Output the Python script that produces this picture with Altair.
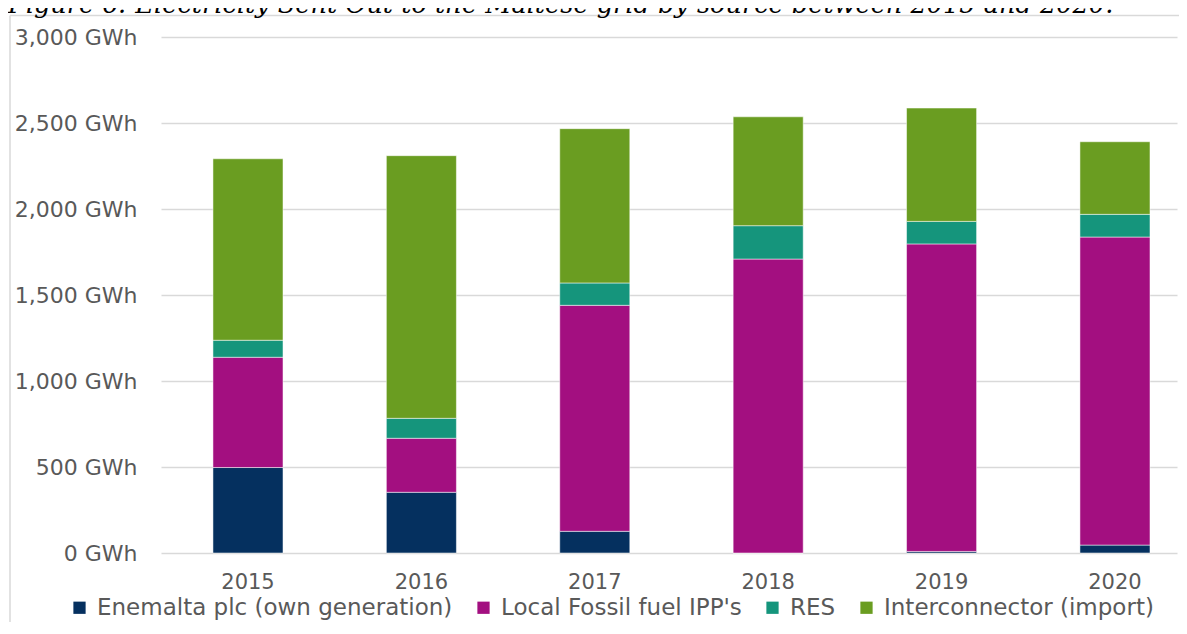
import altair as alt
import pandas as pd

years = ["2015", "2016", "2017", "2018", "2019", "2020"]
sources = ["Enemalta plc (own generation)", "Local Fossil fuel IPP's", "RES", "Interconnector (import)"]
enemalta = [497, 353, 126, 0, 9, 46]
fossil = [641, 314, 1314, 1709, 1788, 1791]
res = [99, 116, 130, 194, 131, 132]
interconnector = [1055, 1527, 897, 633, 659, 422]
colors = ["#05305F", "#A30F80", "#15957C", "#6A9D21"]
y_ticks = [0, 500, 1000, 1500, 2000, 2500, 3000]
title_text = "Figure 6: Electricity Sent Out to the Maltese grid by source between 2015 and 2020."

rows = []
for i, yr in enumerate(years):
    for k, (s, vals) in enumerate(zip(sources, [enemalta, fossil, res, interconnector])):
        rows.append({"Year": yr, "Source": s, "GWh": vals[i], "order": k})
df = pd.DataFrame(rows)

label_color = "#595959"
grid_color = "#D9D9D9"

bars = alt.Chart(df).mark_bar(stroke="#ffffff", strokeOpacity=0.5, strokeWidth=1).encode(
    x=alt.X(
        "Year:N", sort=years, title=None,
        scale=alt.Scale(paddingInner=0.596, paddingOuter=0.2277, align=0.658),
        axis=alt.Axis(labelFont="DejaVu Sans", labelFontSize=21, labelColor=label_color,
                      labelPadding=18, ticks=False, domain=False, labelAngle=0, grid=False),
    ),
    y=alt.Y(
        "GWh:Q", stack="zero", title=None,
        scale=alt.Scale(domain=[0, 3000], nice=False),
        axis=alt.Axis(values=y_ticks, labelExpr="format(datum.value, ',') + ' GWh'",
                      labelFont="DejaVu Sans", labelFontSize=22, labelColor=label_color,
                      labelPadding=24, ticks=False, domain=False,
                      gridColor=grid_color, gridWidth=1.5),
    ),
    color=alt.Color(
        "Source:N", sort=sources,
        scale=alt.Scale(domain=sources, range=colors),
        legend=alt.Legend(
            orient="none", legendX=-93, legendY=559, direction="horizontal", columns=4,
            title=None, symbolType="square", symbolSize=150, symbolStrokeWidth=0,
            labelFont="DejaVu Sans", labelFontSize=23, labelColor=label_color,
            columnPadding=19, labelOffset=6, labelLimit=600, padding=0,
        ),
    ),
    order=alt.Order("order:Q", sort="ascending"),
)

title_layer = alt.Chart(pd.DataFrame({"t": [title_text]})).mark_text(
    align="left", baseline="alphabetic", font="DejaVu Serif", fontStyle="italic",
    fontSize=25.6, color="#000000"
).encode(text="t:N", x=alt.value(-153), y=alt.value(-24))

frame_df = pd.DataFrame({"k": [0]})
left_rule = alt.Chart(frame_df).mark_rule(color=grid_color, strokeWidth=1.5).encode(
    x=alt.value(-151), y=alt.value(-21.5), y2=alt.value(700))
top_rule = alt.Chart(frame_df).mark_rule(color=grid_color, strokeWidth=1.5).encode(
    x=alt.value(-151), x2=alt.value(1100), y=alt.value(-21.5))

chart = alt.layer(left_rule, top_rule, bars, title_layer).properties(
    width=1016, height=516,
    autosize=alt.AutoSizeParams(type="none"),
    padding={"left": 153, "top": 29, "right": 2, "bottom": 69},
).configure_view(stroke=None)

chart.save("out.html", embed_options={"renderer": "svg", "actions": False})
